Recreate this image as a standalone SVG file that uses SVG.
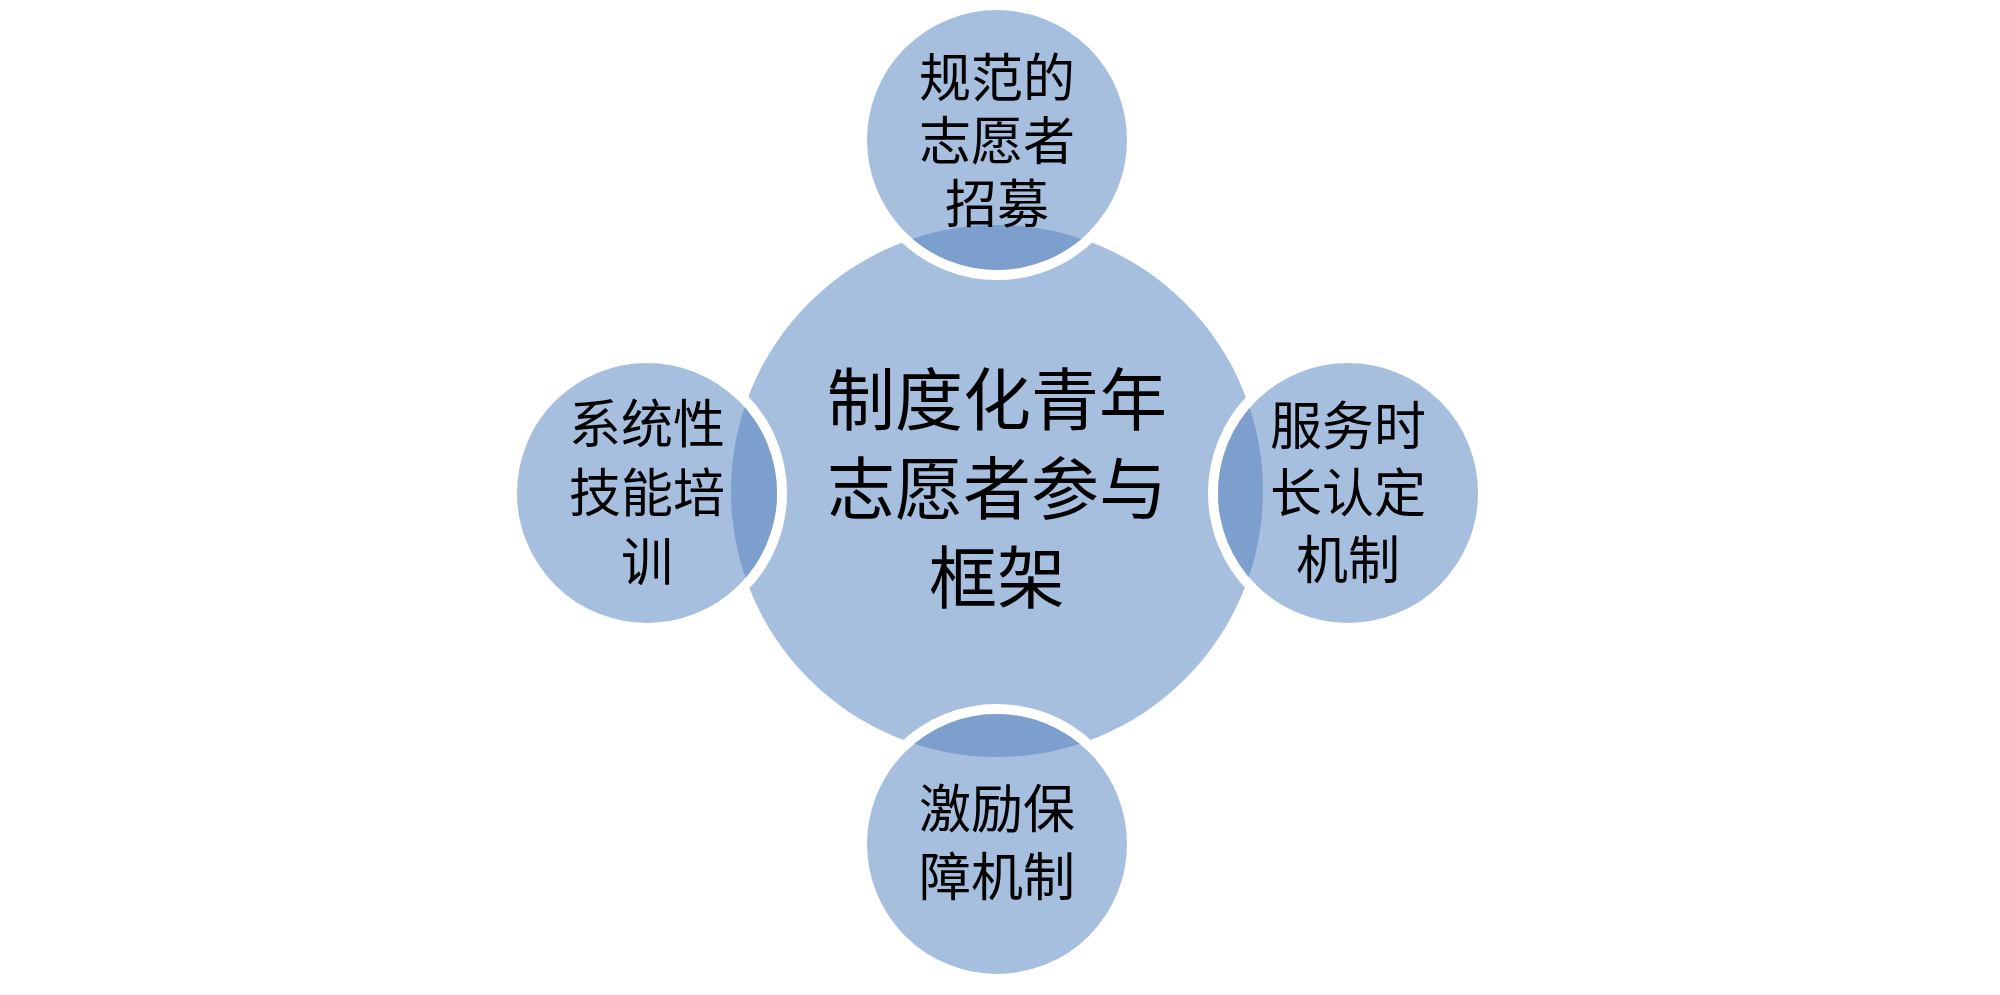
<svg xmlns="http://www.w3.org/2000/svg" width="2000" height="995" viewBox="0 0 2000 995">
<style>
.c{fill:#A7BFDE}
.s{fill:#A7BFDE;stroke:#FFFFFF;stroke-width:10}
.lens{fill:#7C9FCD}
text{font-family:"Liberation Serif","Noto Sans CJK SC",serif;fill:#000;text-anchor:middle;dominant-baseline:central}
.big{font-size:68px}
.sm{font-size:52px}
</style>
<defs>
<clipPath id="cc"><circle cx="997" cy="491" r="266"/></clipPath>
</defs>
<g id="center"><circle class="c" cx="997" cy="491" r="266"/></g>
<g id="connectors"></g>
<g id="top">
<circle class="s" cx="997" cy="140" r="135"/>
<circle class="lens" cx="997" cy="140" r="130" clip-path="url(#cc)"/>
<text class="sm" x="997" y="79">规范的</text>
<text class="sm" x="997" y="142">志愿者</text>
<text class="sm" x="997" y="205">招募</text>
</g>
<g id="left">
<circle class="s" cx="647" cy="493" r="135"/>
<circle class="lens" cx="647" cy="493" r="130" clip-path="url(#cc)"/>
<text class="sm" x="647" y="425">系统性</text>
<text class="sm" x="647" y="494">技能培</text>
<text class="sm" x="647" y="563">训</text>
</g>
<g id="right">
<circle class="s" cx="1348" cy="493" r="135"/>
<circle class="lens" cx="1348" cy="493" r="130" clip-path="url(#cc)"/>
<text class="sm" x="1348" y="427">服务时</text>
<text class="sm" x="1348" y="494">长认定</text>
<text class="sm" x="1348" y="561">机制</text>
</g>
<g id="bottom">
<circle class="s" cx="997" cy="844" r="135"/>
<circle class="lens" cx="997" cy="844" r="130" clip-path="url(#cc)"/>
<text class="sm" x="997" y="810">激励保</text>
<text class="sm" x="997" y="878">障机制</text>
</g>
<g id="center-label">
<text class="big" x="997" y="402">制度化青年</text>
<text class="big" x="997" y="491">志愿者参与</text>
<text class="big" x="997" y="580">框架</text>
</g>
</svg>
